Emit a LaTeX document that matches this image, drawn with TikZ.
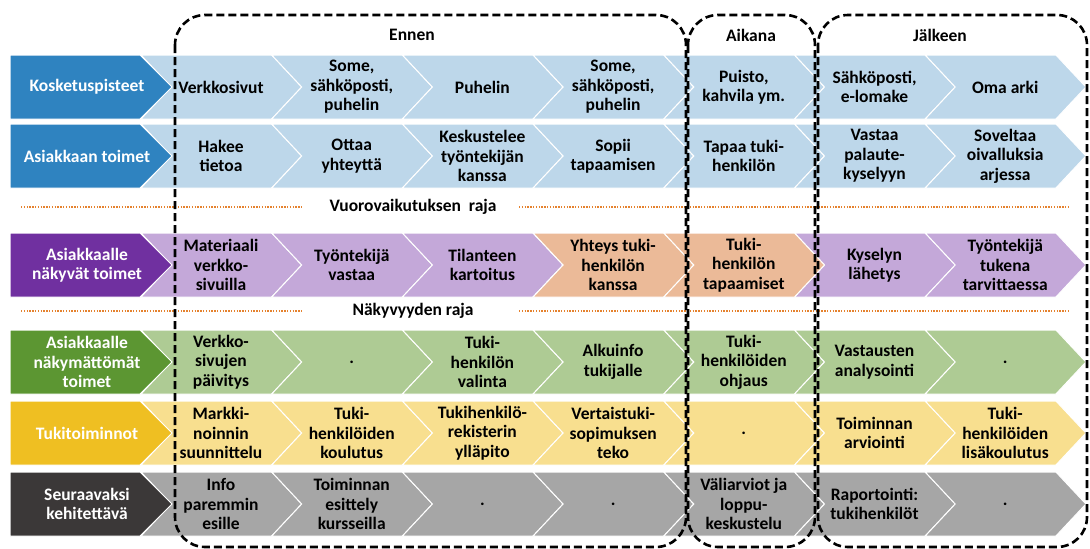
\documentclass[tikz,border=0pt]{standalone}
\usepackage{fontspec}
\setmainfont{Carlito}
\definecolor{dblue}{HTML}{2F83C0}
\definecolor{lblue}{HTML}{BDD7EA}
\definecolor{dpurple}{HTML}{7030A0}
\definecolor{lpurple}{HTML}{C4A8D9}
\definecolor{lorange}{HTML}{EBBA98}
\definecolor{dgreen}{HTML}{5C9632}
\definecolor{lgreen}{HTML}{AECB94}
\definecolor{dyellow}{HTML}{EFBF22}
\definecolor{lyellow}{HTML}{F8DF8F}
\definecolor{dgray}{HTML}{3B3838}
\definecolor{lgray}{HTML}{A6A6A6}
\definecolor{rajaorange}{HTML}{E5822E}
\tikzset{
  chev/.style={draw=white, line width=1pt},
  cell/.style={font=\bfseries\fontsize{17.5}{19.5}\selectfont, align=center, inner sep=0pt},
  lab/.style={cell, text=white},
  box/.style={line width=2.6pt, dash pattern=on 8pt off 4pt, rounded corners=30pt},
  raja/.style={draw=rajaorange, line width=1.4pt, dash pattern=on 1.4pt off 1.4pt}
}

\begin{document}
\begin{tikzpicture}[x=1pt,y=-1pt]
  \useasboundingbox (0,0) rectangle (1090,549);
  % chevron bands
  \foreach \y/\c in {55/lblue,124/lblue,233/lpurple,330/lgreen,401/lyellow,472/lgray}
    \foreach \k in {0,...,6}
      \filldraw[chev,fill=\c] ({141+130.7*\k},\y) -- ++(130.7,0) -- ++(30,32) -- ++(-30,32) -- ++(-130.7,0) -- ++(30,-32) -- cycle;
  \foreach \k in {3,4}
    \filldraw[chev,fill=lorange] ({141+130.7*\k},233) -- ++(130.7,0) -- ++(30,32) -- ++(-30,32) -- ++(-130.7,0) -- ++(30,-32) -- cycle;

  % row labels
  \foreach \y/\c/\nm/\t in {55/dblue/kp/Kosketuspisteet, 124/dblue/at/{Asiakkaan toimet},
      233/dpurple/nt/{Asiakkaalle\\näkyvät toimet}, 330/dgreen/nm/{Asiakkaalle\\näkymättömät\\toimet},
      401/dyellow/tt/Tukitoiminnot, 472/dgray/sk/{Seuraavaksi\\kehitettävä}}{
    \filldraw[chev,fill=\c] (10,\y) -- ++(130,0) -- ++(32,32) -- ++(-32,32) -- ++(-130,0) -- cycle;
    \node[lab] (\nm) at (87,{\y+32}) {\t};
  }

  % cells
  \foreach \t [count=\k from 0] in {Verkkosivut, {Some,\\sähköposti,\\puhelin}, Puhelin,
      {Some,\\sähköposti,\\puhelin}, {Puisto,\\kahvila ym.}, {Sähköposti,\\e-lomake}, Oma arki}
    \node[cell] (kp\k) at ({221+130.7*\k},87) {\t};
  \foreach \t [count=\k from 0] in {{Hakee\\tietoa}, {Ottaa\\yhteyttä}, {Keskustelee\\työntekijän\\kanssa},
      {Sopii\\tapaamisen}, {Tapaa tuki-\\henkilön}, {Vastaa\\palaute-\\kyselyyn}, {Soveltaa\\oivalluksia\\arjessa}}
    \node[cell] (at\k) at ({221+130.7*\k},156) {\t};
  \foreach \t [count=\k from 0] in {{Materiaali\\verkko-\\sivuilla}, {Työntekijä\\vastaa}, {Tilanteen\\kartoitus},
      {Yhteys tuki-\\henkilön\\kanssa}, {Tuki-\\henkilön\\tapaamiset}, {Kyselyn\\lähetys}, {Työntekijä\\tukena\\tarvittaessa}}
    \node[cell] (nt\k) at ({221+130.7*\k},265) {\t};
  \foreach \t [count=\k from 0] in {{Verkko-\\sivujen\\päivitys}, ., {Tuki-\\henkilön\\valinta},
      {Alkuinfo\\tukijalle}, {Tuki-\\henkilöiden\\ohjaus}, {Vastausten\\analysointi}, .}
    \node[cell] (nm\k) at ({221+130.7*\k},362) {\t};
  \foreach \t [count=\k from 0] in {{Markki-\\noinnin\\suunnittelu}, {Tuki-\\henkilöiden\\koulutus},
      {Tukihenkilö-\\rekisterin\\ylläpito}, {Vertaistuki-\\sopimuksen\\teko}, ., {Toiminnan\\arviointi},
      {Tuki-\\henkilöiden\\lisäkoulutus}}
    \node[cell] (tt\k) at ({221+130.7*\k},433) {\t};
  \foreach \t [count=\k from 0] in {{Info\\paremmin\\esille}, {Toiminnan\\esittely\\kursseilla}, ., .,
      {Väliarviot ja\\loppu-\\keskustelu}, {Raportointi:\\tukihenkilöt}, .}
    \node[cell] (sk\k) at ({221+130.7*\k},504) {\t};

  % boundaries
  \node[cell] (vraja) at (413,207) {Vuorovaikutuksen\ \ raja};
  \node[cell] (nraja) at (413,311) {Näkyvyyden raja};
  \coordinate (v1) at (21,207);
  \coordinate (v2) at (1068,207);
  \coordinate (n1) at (21,311);
  \coordinate (n2) at (1068,311);
  \draw[raja] (v1) -- (302,207);
  \draw[raja] (519,207) -- (v2);
  \draw[raja] (n1) -- (302,311);
  \draw[raja] (519,311) -- (n2);

  % phases
  \draw[box] (175,15) rectangle (686,547);
  \draw[box] (688,15) rectangle (815,547);
  \draw[box] (818,15) rectangle (1087,547);
  \node[cell] (ennen) at (412,35) {Ennen};
  \node[cell] (aikana) at (751,35) {Aikana};
  \node[cell] (jalkeen) at (940,35) {Jälkeen};
\end{tikzpicture}
\end{document}
